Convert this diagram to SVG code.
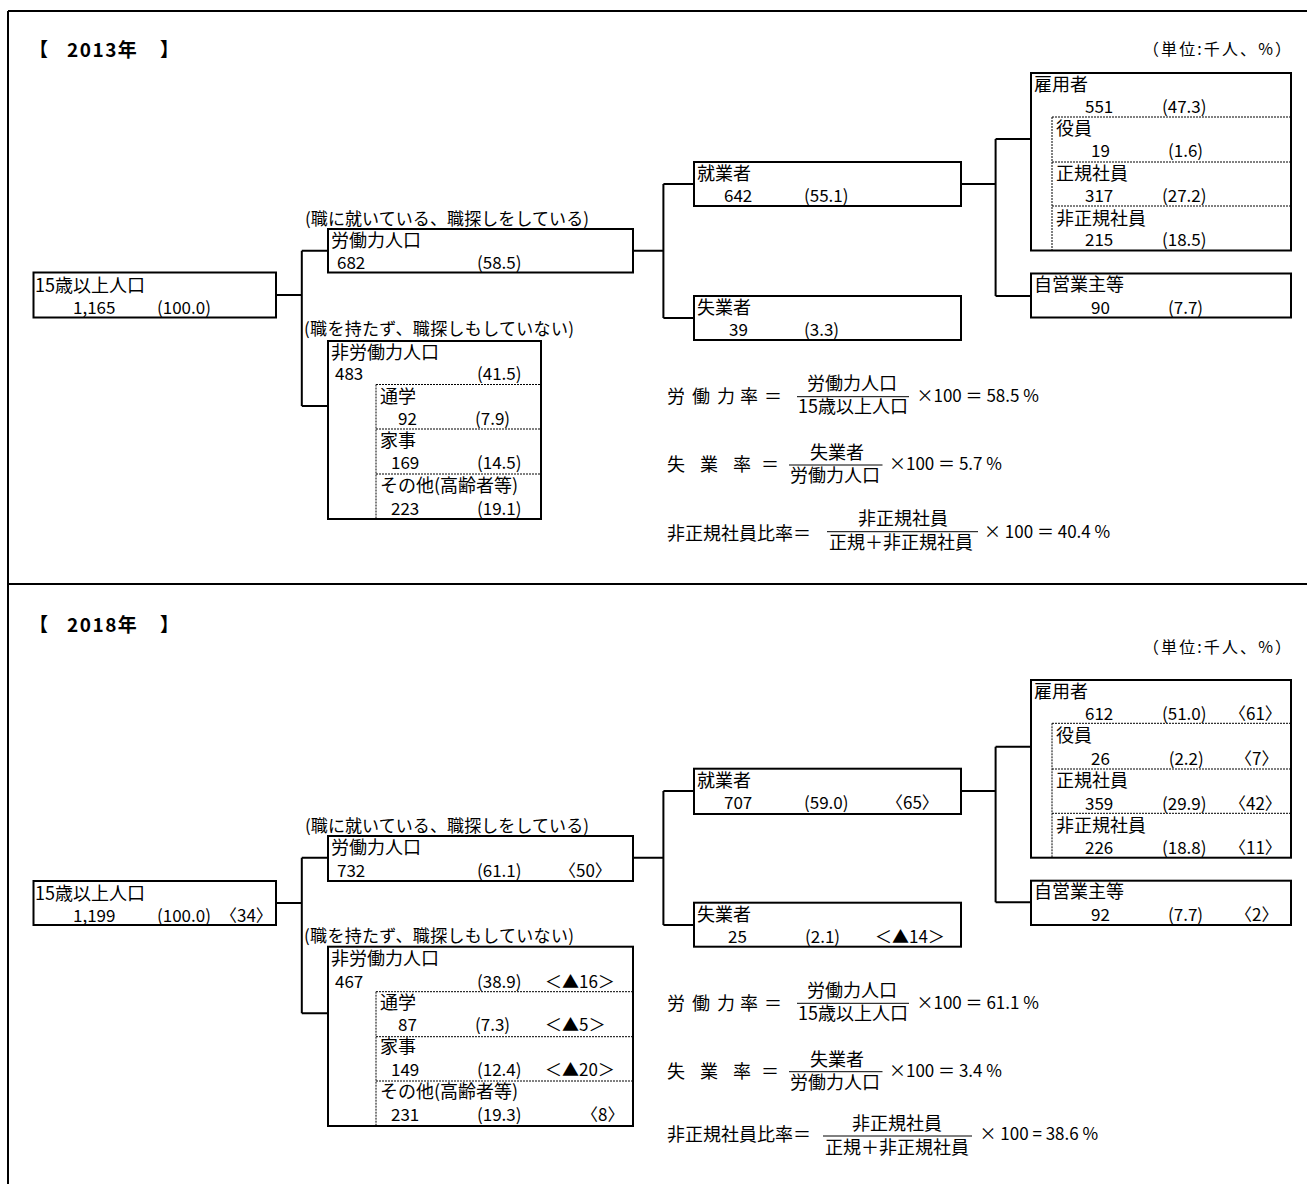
<svg xmlns="http://www.w3.org/2000/svg" width="1307" height="1184" viewBox="0 0 1307 1184">
<style>
text{font-family:"Noto Sans CJK JP","Noto Sans CJK SC",sans-serif;fill:#000}
.l{font-size:18px}
.c{font-size:17px}
.n{font-size:17px}
.f{font-size:18px}
.fn{font-size:17px}
.ttl{font-size:19px;font-weight:bold}
.u{font-size:16px}
.box{fill:#fff;stroke:#000;stroke-width:2}
.dot{fill:none;stroke:#000;stroke-width:1;stroke-dasharray:2 1}
.con{fill:none;stroke:#000;stroke-width:2}
.frm{fill:none;stroke:#000;stroke-width:2}
.fr{stroke:#000;stroke-width:1}
</style>
<rect x="0" y="0" width="1307" height="1184" fill="#fff"/>
<g id="frame">
<path class="frm" d="M8,11 H1307 M8,11 V1184 M8,584 H1307"/>
</g>

<!-- ===== 2013 ===== -->
<g id="title2013">
<text class="ttl" x="29" y="57">【</text><text class="ttl" x="67" y="57" letter-spacing="1.5">2013年</text><text class="ttl" x="160" y="57">】</text>
<text class="u" x="1291" y="55" text-anchor="end" textLength="148" lengthAdjust="spacing">（単位:千人、%）</text></g>

<g id="connectors2013">
<path class="con" d="M276,295 H301.8 M301.8,250.7 V406 M301.8,250.7 H328 M301.8,406 H328"/>
<path class="con" d="M633,250.7 H663.4 M663.4,184 V318 M663.4,184 H694 M663.4,318 H694"/>
<path class="con" d="M961,184 H995.6 M995.6,139 V296 M995.6,139 H1031 M995.6,296 H1031"/>
</g>

<g id="pop15_2013">
<rect class="box" x="33.5" y="272.5" width="242.5" height="45"/>
<text class="l" x="35" y="292">15歳以上人口</text>
<text class="n" x="73" y="314">1,165</text><text class="n" x="157" y="314">(100.0)</text>
</g>
<g id="labor_2013">
<text class="c" x="305" y="225" textLength="284" lengthAdjust="spacing">(職に就いている、職探しをしている)</text>
<rect class="box" x="328" y="229" width="305" height="43.5"/>
<text class="l" x="331" y="247">労働力人口</text>
<text class="n" x="337" y="269">682</text><text class="n" x="477" y="269">(58.5)</text>
</g>
<g id="nonlabor_2013">
<text class="c" x="304" y="335" textLength="270" lengthAdjust="spacing">(職を持たず、職探しもしていない)</text>
<rect class="box" x="328" y="341" width="213" height="178"/>
<text class="l" x="331" y="359">非労働力人口</text>
<text class="n" x="335" y="380">483</text><text class="n" x="477" y="380">(41.5)</text>
<path class="dot" d="M376,384.5 H541 M376,384.5 V518 M376,429 H541 M376,474 H541"/>
<text class="l" x="380" y="403">通学</text>
<text class="n" x="398" y="425">92</text><text class="n" x="475" y="425">(7.9)</text>
<text class="l" x="380" y="447">家事</text>
<text class="n" x="391" y="469">169</text><text class="n" x="477" y="469">(14.5)</text>
<text class="l" x="380" y="492">その他(高齢者等)</text>
<text class="n" x="391" y="515">223</text><text class="n" x="477" y="515">(19.1)</text>
</g>
<g id="employed_2013">
<rect class="box" x="694" y="162" width="267" height="44"/>
<text class="l" x="697" y="180">就業者</text>
<text class="n" x="724" y="202">642</text><text class="n" x="804" y="202">(55.1)</text>
</g>
<g id="unemployed_2013">
<rect class="box" x="694" y="296" width="267" height="44"/>
<text class="l" x="697" y="314">失業者</text>
<text class="n" x="729" y="336">39</text><text class="n" x="804" y="336">(3.3)</text>
</g>
<g id="employee_2013">
<rect class="box" x="1031" y="73" width="260" height="177.5"/>
<text class="l" x="1034" y="91">雇用者</text>
<text class="n" x="1085" y="113">551</text><text class="n" x="1162" y="113">(47.3)</text>
<path class="dot" d="M1052,117 H1291 M1052,117 V250 M1052,162 H1291 M1052,206 H1291"/>
<text class="l" x="1056" y="135">役員</text>
<text class="n" x="1091" y="157">19</text><text class="n" x="1168" y="157">(1.6)</text>
<text class="l" x="1056" y="180">正規社員</text>
<text class="n" x="1085" y="202">317</text><text class="n" x="1162" y="202">(27.2)</text>
<text class="l" x="1056" y="225">非正規社員</text>
<text class="n" x="1085" y="246">215</text><text class="n" x="1162" y="246">(18.5)</text>
</g>
<g id="selfemp_2013">
<rect class="box" x="1031" y="273.5" width="260" height="44"/>
<text class="l" x="1034" y="291">自営業主等</text>
<text class="n" x="1091" y="314">90</text><text class="n" x="1168" y="314">(7.7)</text>
</g>
<g id="formulas_2013">
<text class="f" x="667 692 717 740 764" y="403">労働力率＝</text>
<text class="f" x="807" y="390">労働力人口</text>
<line class="fr" x1="797" y1="396.7" x2="909" y2="396.7"/>
<text class="f" x="798" y="413">15歳以上人口</text>
<text class="fn" x="916.5" y="402">×100 ＝ 58.5 %</text>
<text class="f" x="667 700 733 761" y="471">失業率＝</text>
<text class="f" x="810" y="458.5">失業者</text>
<line class="fr" x1="789" y1="465" x2="882.5" y2="465"/>
<text class="f" x="790" y="482">労働力人口</text>
<text class="fn" x="889" y="470">×100 ＝ 5.7 %</text>
<text class="f" x="667" y="539.5">非正規社員比率＝</text>
<text class="f" x="858" y="525">非正規社員</text>
<line class="fr" x1="827" y1="531.7" x2="978" y2="531.7"/>
<text class="f" x="829" y="549">正規＋非正規社員</text>
<text class="fn" x="984" y="538">× 100 ＝ 40.4 %</text>
</g>

<!-- ===== 2018 ===== -->
<g id="title2018">
<text class="ttl" x="29" y="632">【</text><text class="ttl" x="67" y="632" letter-spacing="1.5">2018年</text><text class="ttl" x="160" y="632">】</text>
<text class="u" x="1291" y="653" text-anchor="end" textLength="148" lengthAdjust="spacing">（単位:千人、%）</text></g>

<g id="connectors2018">
<path class="con" d="M276,903 H301.8 M301.8,857.7 V1013.3 M301.8,857.7 H328 M301.8,1013.3 H328"/>
<path class="con" d="M633,857.7 H663.4 M663.4,791 V925 M663.4,791 H694 M663.4,925 H694"/>
<path class="con" d="M961,791 H995.6 M995.6,746.7 V902.3 M995.6,746.7 H1031 M995.6,902.3 H1031"/>
</g>

<g id="pop15_2018">
<rect class="box" x="33.5" y="881" width="242.5" height="44"/>
<text class="l" x="35" y="900">15歳以上人口</text>
<text class="n" x="73" y="922">1,199</text><text class="n" x="157" y="922">(100.0)</text><text class="n" x="220" y="922">〈34〉</text>
</g>
<g id="labor_2018">
<text class="c" x="305" y="832" textLength="284" lengthAdjust="spacing">(職に就いている、職探しをしている)</text>
<rect class="box" x="328" y="836" width="305" height="45"/>
<text class="l" x="331" y="854">労働力人口</text>
<text class="n" x="337" y="877">732</text><text class="n" x="477" y="877">(61.1)</text><text class="n" x="559" y="877">〈50〉</text>
</g>
<g id="nonlabor_2018">
<text class="c" x="304" y="942" textLength="270" lengthAdjust="spacing">(職を持たず、職探しもしていない)</text>
<rect class="box" x="328" y="946.7" width="305" height="179.3"/>
<text class="l" x="331" y="965">非労働力人口</text>
<text class="n" x="335" y="988">467</text><text class="n" x="477" y="988">(38.9)</text><text class="n" x="545" y="988">＜▲16＞</text>
<path class="dot" d="M376,991.7 H633 M376,991.7 V1125 M376,1036.7 H633 M376,1081 H633"/>
<text class="l" x="380" y="1009">通学</text>
<text class="n" x="398" y="1031">87</text><text class="n" x="475" y="1031">(7.3)</text><text class="n" x="545" y="1031">＜▲5＞</text>
<text class="l" x="380" y="1053">家事</text>
<text class="n" x="391" y="1076">149</text><text class="n" x="477" y="1076">(12.4)</text><text class="n" x="545" y="1076">＜▲20＞</text>
<text class="l" x="380" y="1098">その他(高齢者等)</text>
<text class="n" x="391" y="1121">231</text><text class="n" x="477" y="1121">(19.3)</text><text class="n" x="581" y="1121">〈8〉</text>
</g>
<g id="employed_2018">
<rect class="box" x="694" y="768.7" width="267" height="45.3"/>
<text class="l" x="697" y="787">就業者</text>
<text class="n" x="724" y="809">707</text><text class="n" x="804" y="809">(59.0)</text><text class="n" x="886" y="809">〈65〉</text>
</g>
<g id="unemployed_2018">
<rect class="box" x="694" y="902.7" width="267" height="44"/>
<text class="l" x="697" y="921">失業者</text>
<text class="n" x="728" y="943">25</text><text class="n" x="805" y="943">(2.1)</text><text class="n" x="875" y="943">＜▲14＞</text>
</g>
<g id="employee_2018">
<rect class="box" x="1031" y="680" width="260" height="177.7"/>
<text class="l" x="1034" y="698">雇用者</text>
<text class="n" x="1085" y="720">612</text><text class="n" x="1162" y="720">(51.0)</text><text class="n" x="1229" y="720">〈61〉</text>
<path class="dot" d="M1052,723.3 H1291 M1052,723.3 V857 M1052,769 H1291 M1052,813.3 H1291"/>
<text class="l" x="1056" y="742">役員</text>
<text class="n" x="1091" y="765">26</text><text class="n" x="1168.7" y="765">(2.2)</text><text class="n" x="1235" y="765">〈7〉</text>
<text class="l" x="1056" y="787">正規社員</text>
<text class="n" x="1085" y="810">359</text><text class="n" x="1162" y="810">(29.9)</text><text class="n" x="1229" y="810">〈42〉</text>
<text class="l" x="1056" y="832">非正規社員</text>
<text class="n" x="1085" y="854">226</text><text class="n" x="1162" y="854">(18.8)</text><text class="n" x="1229" y="854">〈11〉</text>
</g>
<g id="selfemp_2018">
<rect class="box" x="1031" y="880.7" width="260" height="44.3"/>
<text class="l" x="1034" y="898">自営業主等</text>
<text class="n" x="1091" y="921">92</text><text class="n" x="1168" y="921">(7.7)</text><text class="n" x="1235" y="921">〈2〉</text>
</g>
<g id="formulas_2018">
<text class="f" x="667 692 717 740 764" y="1010">労働力率＝</text>
<text class="f" x="807" y="997">労働力人口</text>
<line class="fr" x1="797" y1="1003.3" x2="909" y2="1003.3"/>
<text class="f" x="798" y="1020">15歳以上人口</text>
<text class="fn" x="916.5" y="1009">×100 ＝ 61.1 %</text>
<text class="f" x="667 700 733 761" y="1078">失業率＝</text>
<text class="f" x="810" y="1065.5">失業者</text>
<line class="fr" x1="789" y1="1071.7" x2="882.5" y2="1071.7"/>
<text class="f" x="790" y="1089">労働力人口</text>
<text class="fn" x="889" y="1077">×100 ＝ 3.4 %</text>
<text class="f" x="667" y="1141">非正規社員比率＝</text>
<text class="f" x="852" y="1130">非正規社員</text>
<line class="fr" x1="823" y1="1136" x2="972" y2="1136"/>
<text class="f" x="825" y="1154">正規＋非正規社員</text>
<text class="fn" x="979.5" y="1140">× 100 = 38.6 %</text>
</g>
</svg>
